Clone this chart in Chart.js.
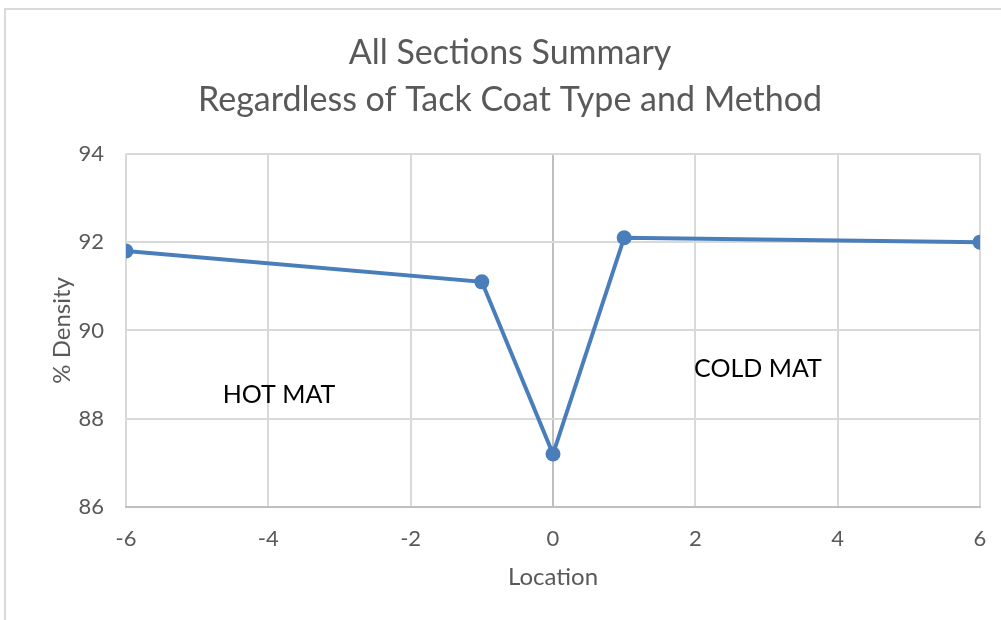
<!DOCTYPE html>
<html>
<head>
<meta charset="utf-8">
<script src="https://cdn.jsdelivr.net/npm/chart.js@4/dist/chart.umd.min.js"></script>
<style>
  html, body { margin:0; padding:0; background:#fff; }
  #wrap { position:relative; width:1001px; height:620px; }
</style>
</head>
<body>
<div id="wrap"><canvas id="grafico" width="1001" height="620"></canvas></div>
<script>
// datos
const ubicaciones = [-6, -1, 0, 1, 6];
const densidad = [91.8, 91.1, 87.2, 92.1, 92.0];
const ticksX = [-6, -4, -2, 0, 2, 4, 6];
const ticksY = [86, 88, 90, 92, 94];

// etiquetas de texto dentro del area
const notas = [
   {texto:'HOT MAT', x:-3.85, y:88.54},
   {texto:'COLD MAT', x:2.88, y:89.13}
];

const fuente = 'Lato, "Open Sans", sans-serif';
const gris = '#595959';

let puntos = ubicaciones.map((u,i)=>({x:u, y:densidad[i]}));

// borde exterior y textos HOT/COLD
const extras = {
   id:'extras',
   beforeDraw(chart){
      const c = chart.ctx;
      c.save();
      c.fillStyle = '#fff';
      c.fillRect(0,0,chart.width,chart.height);
      c.strokeStyle = '#d9d9d9';
      c.lineWidth = 2;
      c.beginPath();
      c.moveTo(5, chart.height);
      c.lineTo(5, 9);
      c.lineTo(chart.width, 9);
      c.stroke();
      c.restore();
   },
   afterDatasetsDraw(chart){
      const c = chart.ctx;
      const sx = chart.scales.x, sy = chart.scales.y;
      c.save();
      c.fillStyle = '#000';
      c.font = '25px ' + fuente;
      c.textAlign = 'center';
      c.textBaseline = 'middle';
      notas.forEach(n=>{
         c.fillText(n.texto, sx.getPixelForValue(n.x), sy.getPixelForValue(n.y));
      });
      c.restore();
   }
};

let miCanvas = document.getElementById('grafico').getContext('2d');
var chart = new Chart(miCanvas,{
   type:'line',
   data:{
      datasets:[{
         label:'% Density',
         data:puntos,
         borderColor:'#4a7ebb',
         backgroundColor:'#4a7ebb',
         borderWidth:4,
         pointRadius:7.5,
         pointHoverRadius:7.5,
         pointBorderWidth:0,
         tension:0
      }]
   },
   options:{
      responsive:false,
      animation:false,
      layout:{padding:{top:0, left:40, right:21, bottom:0}},
      plugins:{
         legend:{display:false},
         tooltip:{enabled:false},
         title:{
            display:true,
            text:['All Sections Summary','Regardless of Tack Coat Type and Method'],
            color:gris,
            font:{family:fuente, size:34, weight:'normal', lineHeight:1.38},
            padding:{top:30, bottom:30}
         }
      },
      scales:{
         x:{
            type:'linear',
            min:-6, max:6,
            afterBuildTicks:(s)=>{ s.ticks = ticksX.map(v=>({value:v})); },
            afterFit:(s)=>{ s.height = 113; s.paddingLeft = 0; s.paddingRight = 0; },
            grid:{
               drawTicks:false,
               lineWidth:2,
               color:(ctx)=> ctx.tick && ctx.tick.value === 0 ? '#bfbfbf' : '#d9d9d9'
            },
            border:{display:true, color:'#bfbfbf', width:2},
            ticks:{color:gris, padding:19, font:{family:fuente, size:22}},
            title:{
               display:true, text:'Location', color:gris,
               font:{family:fuente, size:24}, padding:{top:0, bottom:28}
            }
         },
         y:{
            min:86, max:94,
            afterBuildTicks:(s)=>{ s.ticks = ticksY.map(v=>({value:v})); },
            afterFit:(s)=>{ s.width = 86; },
            grid:{drawTicks:false, lineWidth:2, color:'#d9d9d9'},
            border:{display:false},
            ticks:{color:gris, padding:22, font:{family:fuente, size:22}},
            title:{
               display:true, text:'% Density', color:gris,
               font:{family:fuente, size:24}, padding:{top:8, bottom:0}
            }
         }
      }
   },
   plugins:[extras]
});
</script>
</body>
</html>
